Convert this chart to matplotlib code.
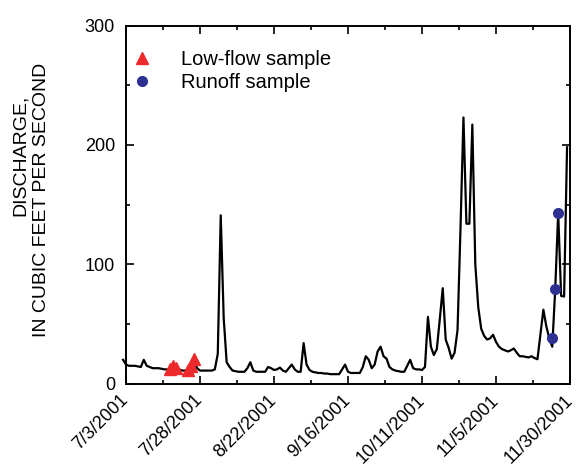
import numpy as np
import pandas as pd
import matplotlib
matplotlib.use("Agg")
import matplotlib.pyplot as plt
import matplotlib.dates as mdates
from matplotlib.ticker import FixedLocator, MultipleLocator

plt.rcParams['font.family'] = ['Liberation Sans', 'DejaVu Sans']

# daily mean discharge, 7/2/2001 - 11/29/2001 (cfs)
start_date = "2001-07-02"
discharge = [
    20, 16, 15, 15, 15, 14.5, 14, 20, 15, 14,
    13, 13, 13, 12.5, 12, 12, 13, 14, 13, 12,
    11, 11, 12, 16, 19, 13, 11, 11, 11, 11,
    11, 12, 25, 141, 55, 18, 14, 11, 10.5, 10,
    10, 10, 13, 18, 11, 10, 10, 10, 10, 14,
    13, 11.5, 12, 13.5, 11, 10, 13, 16, 12, 10,
    10, 34, 16, 11.5, 10, 9.5, 9, 9, 8.5, 8.5,
    8, 8, 8, 8, 12, 16, 10, 9, 9, 9,
    9, 14, 23, 20, 13, 16, 27, 31, 23, 21,
    14, 12, 11, 10.5, 10, 10, 15, 20, 13, 12,
    12, 11.5, 14, 56, 31, 24, 29, 54, 80, 37,
    30, 21, 26, 45, 130, 223, 134, 134, 217, 100,
    64, 46, 40, 37, 38, 41, 35, 31, 29, 28,
    27, 28, 29.5, 26, 23, 23, 22.5, 22, 23, 21.5,
    20.5, 41, 62, 48, 38, 31, 79, 143, 73.5, 73,
    198,
]
dates = pd.date_range(start_date, periods=len(discharge), freq="D")

# samples
lowflow_times = ["2001-07-18", "2001-07-19", "2001-07-20",
                 "2001-07-24", "2001-07-25", "2001-07-26"]
lowflow_q = [12.5, 14.5, 13.5, 11.5, 15, 21]
runoff_times = ["2001-11-23 19:00", "2001-11-25 00:00", "2001-11-25 19:00"]
runoff_q = [38.5, 79, 143]

xtick_dates = ["2001-07-03", "2001-07-28", "2001-08-22", "2001-09-16",
               "2001-10-11", "2001-11-05", "2001-11-30"]

fig = plt.figure(figsize=(5.77, 4.68), dpi=100)
ax = fig.add_axes([0.2184, 0.1801, 0.7695, 0.7654])

ax.plot(dates, discharge, color="black", lw=1.6, clip_on=False, zorder=2)
ax.plot(pd.to_datetime(lowflow_times), lowflow_q, ls="none", marker="^",
        ms=9, color="#ec2a2c", mec="#ec2a2c", label="Low-flow sample", zorder=3)
ax.plot(pd.to_datetime(runoff_times), runoff_q, ls="none", marker="o",
        ms=7, color="#2e3192", mec="#2e3192", label="Runoff sample", zorder=3)

xt = pd.to_datetime(xtick_dates)
xnum = mdates.date2num(xt)
ax.set_xlim(xnum[0], xnum[-1])
ax.set_ylim(0, 300)
ax.xaxis.set_major_locator(FixedLocator(xnum))
ax.xaxis.set_minor_locator(FixedLocator(xnum[:-1] + 12.5))
ax.set_xticklabels([f"{d.month}/{d.day}/{d.year}" for d in xt],
                   rotation=45, ha="right", va="center", rotation_mode="anchor")
ax.yaxis.set_major_locator(MultipleLocator(100))
ax.yaxis.set_minor_locator(MultipleLocator(50))

ax.tick_params(which="both", direction="in", top=True, right=True,
               labelsize=13, width=1.2, colors="black")
ax.tick_params(which="major", length=5.5, pad=8)
ax.tick_params(axis="x", which="major", pad=10)
ax.tick_params(which="minor", length=3)
for s in ax.spines.values():
    s.set_linewidth(1.4)

# y label, two lines placed separately
fig.text(20 / 577, 1 - 155 / 468, "DISCHARGE,", rotation=90, fontsize=14,
         ha="center", va="center")
fig.text(42 / 577, 1 - 200 / 468, "IN CUBIC FEET PER SECOND", rotation=90,
         fontsize=14, ha="center", va="center")

ax.legend(loc="upper left", frameon=False, fontsize=14.5, handletextpad=0.9,
          borderaxespad=0.3, labelspacing=0.2, bbox_to_anchor=(-0.04, 0.97))

fig.savefig("out.png", dpi=100)
